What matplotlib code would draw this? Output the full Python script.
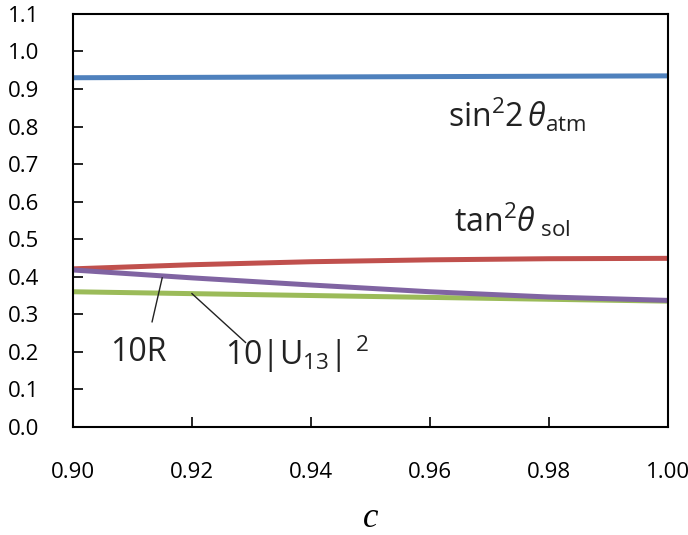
import matplotlib
matplotlib.use("Agg")
import matplotlib.pyplot as plt
import numpy as np

plt.rcParams['font.family'] = ['Open Sans', 'DejaVu Sans']
plt.rcParams['mathtext.fontset'] = 'custom'
plt.rcParams['mathtext.rm'] = 'Open Sans'
plt.rcParams['mathtext.it'] = 'Open Sans:italic'

c = [0.90, 0.92, 0.94, 0.96, 0.98, 1.00]
sin2_atm = [0.930, 0.931, 0.932, 0.933, 0.934, 0.935]
tan2_sol = [0.421, 0.432, 0.440, 0.445, 0.448, 0.449]
ten_r = [0.418, 0.397, 0.378, 0.360, 0.346, 0.337]
ten_u13 = [0.360, 0.355, 0.350, 0.345, 0.340, 0.335]

fig = plt.figure(figsize=(6.88, 5.35), dpi=100)
ax = fig.add_axes([0.106, 0.202, 0.865, 0.772])

lw = 3.6
ax.plot(c, sin2_atm, color='#4F81BD', lw=lw, solid_capstyle='butt')
ax.plot(c, tan2_sol, color='#C0504D', lw=lw, solid_capstyle='butt')
ax.plot(c, ten_u13, color='#9BBB59', lw=lw, solid_capstyle='butt')
ax.plot(c, ten_r, color='#8064A2', lw=lw, solid_capstyle='butt')

ax.set_xlim(0.90, 1.00)
ax.set_ylim(0.0, 1.1)
ax.set_xticks(np.arange(0.90, 1.001, 0.02))
ax.set_xticklabels(['0.90', '0.92', '0.94', '0.96', '0.98', '1.00'])
ax.set_yticks(np.arange(0.0, 1.101, 0.1))
ax.set_yticklabels(['%.1f' % v for v in np.arange(0.0, 1.101, 0.1)])
ax.tick_params(direction='in', length=7, width=1.2, labelsize=16,
               colors='black')
ax.tick_params(axis='x', pad=25)
ax.tick_params(axis='y', pad=24)
for s in ax.spines.values():
    s.set_linewidth(1.5)

ax.set_xlabel('c', fontsize=25, family='Liberation Serif', style='italic',
              labelpad=14)

# curve labels
tk = dict(fontsize=23, color='#222222')
ax.text(0.9630, 0.80, r'sin$^2$2$\,\mathit{\theta}_{\rm atm}$', **tk)
ax.text(0.9640, 0.52, r'tan$^2\mathit{\theta}_{\rm\ sol}$', **tk)
ax.text(0.9062, 0.175, '10R', **tk)
ax.text(0.9255, 0.165, r'10|U$_{13}$| $^2$', **tk)

# leader lines
ax.plot([0.9133, 0.9150], [0.280, 0.397], color='#222222', lw=1)
ax.plot([0.9290, 0.9200], [0.225, 0.355], color='#222222', lw=1)

fig.savefig('out.png', dpi=100)
